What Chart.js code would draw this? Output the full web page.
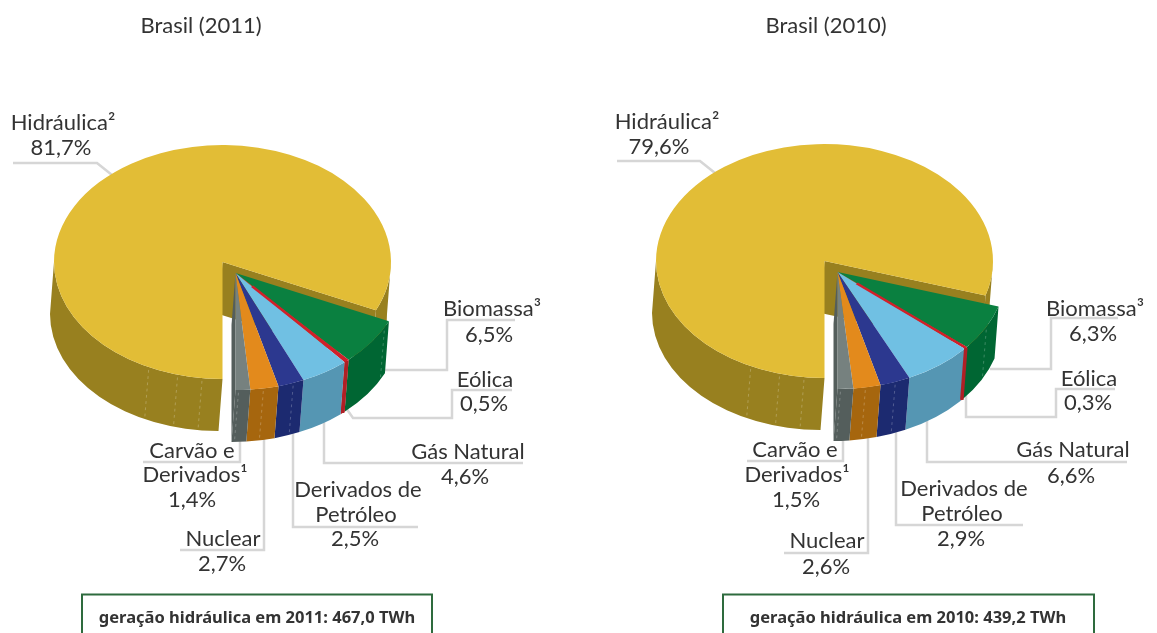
<!DOCTYPE html>
<html lang="pt">
<head>
<meta charset="utf-8">
<title>Brasil 2011 / 2010</title>
<script src="https://cdn.jsdelivr.net/npm/chart.js@4"></script>
<style>
    html, body { margin: 0; padding: 0; background: #fff; overflow: hidden; }
    canvas { position: absolute; top: 0; }
</style>
</head>
<body>
<canvas id="chart2011" width="578" height="633" style="left:0"></canvas>
<canvas id="chart2010" width="579" height="633" style="left:578px"></canvas>
<script>
// Data
const categories = ['Hidráulica', 'Biomassa', 'Eólica', 'Gás Natural', 'Derivados de Petróleo', 'Nuclear', 'Carvão e Derivados'];
const values2011 = [81.7, 6.5, 0.5, 4.6, 2.5, 2.7, 1.4];
const values2010 = [79.6, 6.3, 0.3, 6.6, 2.9, 2.6, 1.5];
const labels2011 = ['81,7%', '6,5%', '0,5%', '4,6%', '2,5%', '2,7%', '1,4%'];
const labels2010 = ['79,6%', '6,3%', '0,3%', '6,6%', '2,9%', '2,6%', '1,5%'];

// Colours: top face and side wall of each slice
const topColors = ['#E2BD36', '#0A8040', '#D1202A', '#70C0E3', '#2C388F', '#E38A1C', '#76817F'];
const wallColors = ['#98801F', '#006633', '#B01F25', '#5596B3', '#1C2A70', '#A6660E', '#545E5C'];

// 3D look
const SQUASH = 117 / 168.5;
const DEPTH = 52;
const WALL_DX = -4;
const PULL_X = 13;
const PULL_Y = 11;
const THIN_SLICE = 2; // Eólica is too thin to see, it gets a stroke as in the original
const yellowSeams = [97, 105.5, 116];
const wedgeSeams = [28, 70, 80.5, 89];

// Text and leader lines, in page coordinates
const layout2011 = {
    offsetX: 0,
    title: ['Brasil (2011)', 201, 26],
    box: [82, 432],
    boxText: ['geração hidráulica em 2011: 467,0 TWh', 257, 618],
    texts: [
        ['Hidráulica²', 63, 123], [labels2011[0], 61, 148],
        ['Biomassa³', 492, 309], [labels2011[1], 489, 335],
        ['Eólica', 485, 380], [labels2011[2], 484, 404],
        ['Gás Natural', 468, 452], [labels2011[3], 465, 477],
        ['Derivados de', 358, 490], ['Petróleo', 356, 515], [labels2011[4], 355, 539],
        ['Nuclear', 223, 539], [labels2011[5], 222, 564],
        ['Carvão e', 192, 451], ['Derivados¹', 195, 475], [labels2011[6], 192, 500]
    ],
    leaders: [
        [[13, 163], [97, 163], [112, 175]],
        [[385, 370], [447, 370], [447, 320], [515, 320]],
        [[346, 408], [353, 418], [452, 418], [452, 390], [512, 390]],
        [[324, 420], [324, 463], [523, 463]],
        [[293, 428], [293, 527], [418, 527]],
        [[264, 435], [264, 550], [180, 550]],
        [[240, 435], [240, 462], [143, 462]]
    ]
};
const layout2010 = {
    offsetX: 578,
    title: ['Brasil (2010)', 826, 26],
    box: [723, 1094],
    boxText: ['geração hidráulica em 2010: 439,2 TWh', 908, 618],
    texts: [
        ['Hidráulica²', 667, 122], [labels2010[0], 659, 147],
        ['Biomassa³', 1095, 309], [labels2010[1], 1093, 334],
        ['Eólica', 1089, 379], [labels2010[2], 1088, 403],
        ['Gás Natural', 1073, 450], [labels2010[3], 1071, 476],
        ['Derivados de', 964, 489], ['Petróleo', 962, 514], [labels2010[4], 961, 539],
        ['Nuclear', 827, 541], [labels2010[5], 826, 567],
        ['Carvão e', 795, 450], ['Derivados¹', 797, 475], [labels2010[6], 796, 500]
    ],
    leaders: [
        [[617, 161], [700, 161], [715, 173]],
        [[990, 369], [1051, 369], [1051, 318], [1118, 318]],
        [[966, 395], [966, 417], [1056, 417], [1056, 389], [1115, 389]],
        [[927, 418], [927, 462], [1127, 462]],
        [[896, 428], [896, 525], [1023, 525]],
        [[868, 435], [868, 553], [784, 553]],
        [[843, 435], [843, 461], [747, 461]]
    ]
};

const LABEL_FONT = '22px Lato, "Noto Sans", sans-serif';
const BOX_FONT = 'bold 16.5px "Noto Sans", sans-serif';

// Draw the side wall of one slice (only the part facing the viewer)
function drawWall(ctx, arc, color) {
    const twoPi = Math.PI * 2;
    const d = DEPTH / SQUASH;
    for (let k = 0; k < 2; k++) {
        const lo = Math.max(arc.startAngle, twoPi * k);
        const hi = Math.min(arc.endAngle, twoPi * k + Math.PI);
        if (lo >= hi) continue;
        ctx.beginPath();
        ctx.arc(arc.x, arc.y, arc.outerRadius, lo, hi);
        ctx.arc(arc.x + WALL_DX, arc.y + d, arc.outerRadius, hi, lo, true);
        ctx.closePath();
        ctx.fillStyle = color;
        ctx.fill();
    }
}

// Draw the flat cut face that goes down from a slice edge
function drawCutFace(ctx, arc, angle, color) {
    const r = arc.outerRadius;
    const ex = arc.x + r * Math.cos(angle);
    const ey = arc.y + r * Math.sin(angle);
    const d = DEPTH / SQUASH;
    ctx.beginPath();
    ctx.moveTo(arc.x, arc.y);
    ctx.lineTo(ex, ey);
    ctx.lineTo(ex + WALL_DX, ey + d);
    ctx.lineTo(arc.x + WALL_DX, arc.y + d);
    ctx.closePath();
    ctx.fillStyle = color;
    ctx.fill();
}

// Faint dashed lines on the wall
function drawSeams(ctx, arc, seams) {
    const d = DEPTH / SQUASH;
    ctx.save();
    ctx.strokeStyle = 'rgba(255,255,255,0.28)';
    ctx.lineWidth = 1;
    ctx.setLineDash([4, 5]);
    seams.forEach(deg => {
        const a = deg * Math.PI / 180;
        const x = arc.x + arc.outerRadius * Math.cos(a);
        const y = arc.y + arc.outerRadius * Math.sin(a);
        ctx.beginPath();
        ctx.moveTo(x, y + 4);
        ctx.lineTo(x + WALL_DX, y + d);
        ctx.stroke();
    });
    ctx.restore();
}

// Stroke along the middle of a very thin slice so that it stays visible
function strokeThinSlice(ctx, arc, topColor, wallColor) {
    const mid = (arc.startAngle + arc.endAngle) / 2;
    const x = arc.x + arc.outerRadius * Math.cos(mid);
    const y = arc.y + arc.outerRadius * Math.sin(mid);
    ctx.save();
    ctx.lineWidth = 3.5;
    ctx.strokeStyle = wallColor;
    ctx.beginPath();
    ctx.moveTo(x, y);
    ctx.lineTo(x + WALL_DX, y + DEPTH / SQUASH);
    ctx.stroke();
    ctx.strokeStyle = topColor;
    ctx.lineWidth = 3;
    ctx.beginPath();
    ctx.moveTo(arc.x + (x - arc.x) * 0.15, arc.y + (y - arc.y) * 0.15);
    ctx.lineTo(x, y);
    ctx.stroke();
    ctx.restore();
}

// Plugin that replaces the flat pie with the tilted one and adds texts
const pie3dPlugin = {
    id: 'pie3d',
    beforeDatasetsDraw(chart, args, opts) {
        const ctx = chart.ctx;
        const arcs = chart.getDatasetMeta(0).data;
        const L = opts.layout;

        // Leader lines go under the pie
        ctx.save();
        ctx.translate(-L.offsetX, 0);
        ctx.strokeStyle = '#D6D6D6';
        ctx.lineWidth = 2.5;
        ctx.lineJoin = 'miter';
        L.leaders.forEach(points => {
            ctx.beginPath();
            points.forEach((p, i) => i ? ctx.lineTo(p[0], p[1]) : ctx.moveTo(p[0], p[1]));
            ctx.stroke();
        });
        ctx.restore();

        const cx = arcs[0].x;
        const cy = arcs[0].y;
        const tilt = (dx, dy) => {
            ctx.translate(cx + dx, cy + dy);
            ctx.scale(1, SQUASH);
            ctx.translate(-cx, -cy);
        };

        // Big slice stays in place
        ctx.save();
        tilt(0, 0);
        drawWall(ctx, arcs[0], wallColors[0]);
        drawSeams(ctx, arcs[0], yellowSeams);
        drawCutFace(ctx, arcs[0], arcs[0].endAngle, wallColors[0]);
        arcs[0].draw(ctx);
        ctx.restore();

        // The other slices are pulled out together
        ctx.save();
        tilt(PULL_X, PULL_Y);
        drawCutFace(ctx, arcs[arcs.length - 1], arcs[arcs.length - 1].endAngle, wallColors[arcs.length - 1]);
        for (let i = 1; i < arcs.length; i++) {
            drawWall(ctx, arcs[i], wallColors[i]);
        }
        drawSeams(ctx, arcs[1], wedgeSeams);
        for (let i = 1; i < arcs.length; i++) {
            arcs[i].draw(ctx);
        }
        strokeThinSlice(ctx, arcs[THIN_SLICE], topColors[THIN_SLICE], wallColors[THIN_SLICE]);
        ctx.restore();

        return false;
    },
    afterDraw(chart, args, opts) {
        const ctx = chart.ctx;
        const L = opts.layout;
        ctx.save();
        ctx.translate(-L.offsetX, 0);
        ctx.textAlign = 'center';
        ctx.textBaseline = 'middle';
        ctx.fillStyle = '#333';
        ctx.font = LABEL_FONT;
        L.texts.forEach(t => ctx.fillText(t[0], t[1], t[2]));
        ctx.fillText(L.title[0], L.title[1], L.title[2]);

        // Green box, cut by the bottom of the page
        ctx.strokeStyle = '#2E6B3E';
        ctx.lineWidth = 2;
        ctx.strokeRect(L.box[0], 594.5, L.box[1] - L.box[0], 60);
        ctx.font = BOX_FONT;
        ctx.fillStyle = '#333';
        ctx.fillText(L.boxText[0], L.boxText[1], L.boxText[2]);
        ctx.restore();
    }
};

function createPie(canvasId, values, layout, padding) {
    return new Chart(document.getElementById(canvasId), {
        type: 'pie',
        data: {
            labels: categories,
            datasets: [{
                data: values,
                backgroundColor: topColors,
                borderWidth: 0
            }]
        },
        options: {
            responsive: false,
            animation: false,
            rotation: 180,
            layout: { padding: padding },
            plugins: {
                legend: { display: false },
                tooltip: { enabled: false },
                pie3d: { layout: layout }
            }
        },
        plugins: [pie3dPlugin]
    });
}

createPie('chart2011', values2011, layout2011, { left: 54, right: 187, top: 93.5, bottom: 202.5 });
createPie('chart2010', values2010, layout2010, { left: 78, right: 164, top: 92.5, bottom: 203.5 });
</script>
</body>
</html>
